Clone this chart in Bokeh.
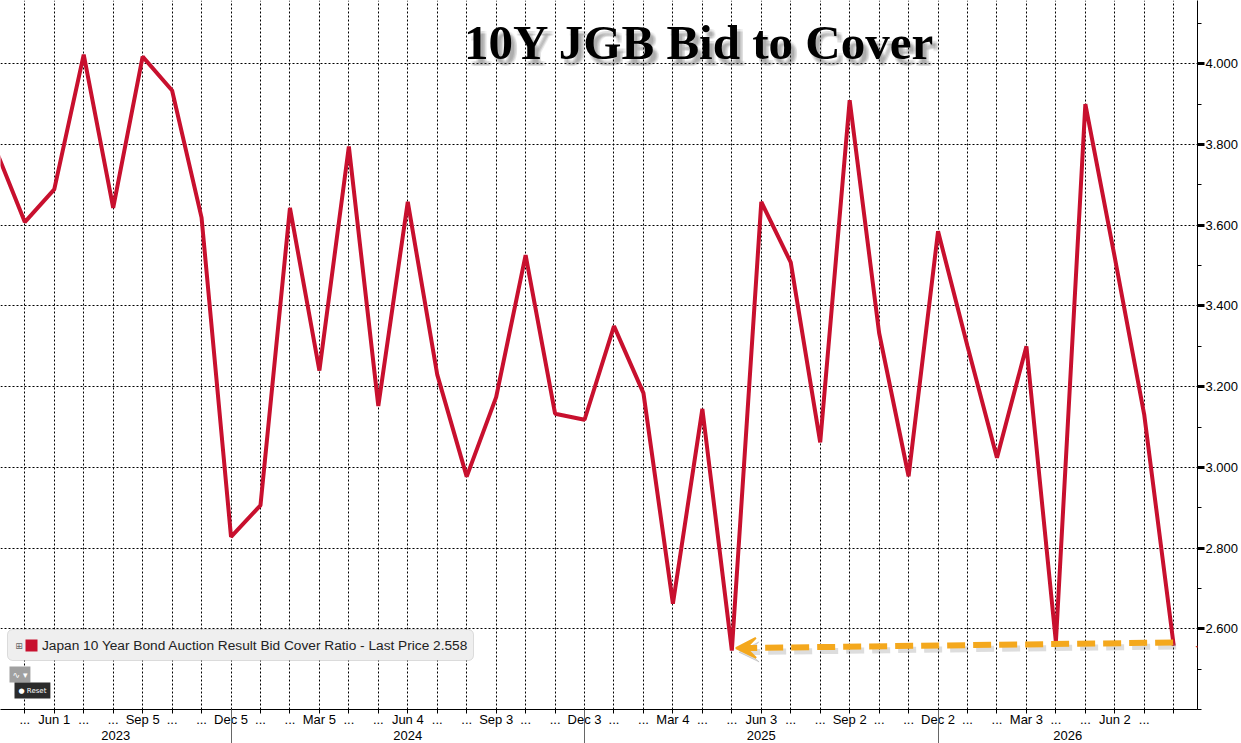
import numpy as np
from bokeh.plotting import figure
from bokeh.models import (Range1d, FixedTicker, CustomJSTickFormatter, LinearAxis,
                          NumeralTickFormatter, Label, Arrow, VeeHead, BoxAnnotation)
from bokeh.embed import file_html
from bokeh.resources import INLINE

# ---------------- data ----------------
# first value is the auction before the first labelled one (runs off the left edge)
auction_values = [3.79, 3.608, 3.689, 4.023, 3.643, 4.018, 3.934, 3.619, 2.828, 2.906,
                  3.643, 3.240, 3.795, 3.152, 3.658, 3.230, 2.977, 3.174, 3.526, 3.133,
                  3.118, 3.350, 3.184, 2.662, 3.145, 2.546, 3.658, 3.508, 3.062, 3.910,
                  3.333, 2.978, 3.585, 3.300, 3.024, 3.300, 2.567, 3.900, 3.520, 3.130,
                  2.558]
tick_labels = ["...", "Jun 1", "...", "...", "Sep 5", "...", "...", "Dec 5", "...", "...",
               "Mar 5", "...", "...", "Jun 4", "...", "...", "Sep 3", "...", "...", "Dec 3",
               "...", "...", "Mar 4", "...", "...", "Jun 3", "...", "...", "Sep 2", "...",
               "...", "Dec 2", "...", "...", "Mar 3", "...", "...", "Jun 2", "...", ""]
year_labels = ["2023", "2024", "2025", "2026"]
year_break_index = [7, 19, 31]
y_major = [2.6, 2.8, 3.0, 3.2, 3.4, 3.6, 3.8, 4.0]
y_minor = [2.4, 2.5, 2.7, 2.9, 3.1, 3.3, 3.5, 3.7, 3.9, 4.1]
last_price = 2.558
series_name = "Japan 10 Year Bond Auction Result Bid Cover Ratio - Last Price 2.558"
chart_title = "10Y JGB Bid to Cover"

auction_index = list(range(-1, len(tick_labels)))

RED = "#c8102e"
ORANGE = "#f4a81d"
FONT = "Liberation Sans"

W, H = 1241, 743
FRAME_W, FRAME_H = 1197, 709
X0, X1 = -0.825, 39.807
Y0, Y1 = 2.4, 4.157


def px_x(px):
    return X0 + px * (X1 - X0) / FRAME_W


def px_y(py):
    return Y1 - py * (Y1 - Y0) / FRAME_H


p = figure(width=W, height=H, x_range=Range1d(X0, X1), y_range=Range1d(Y0, Y1),
           y_axis_location="right", output_backend="svg", toolbar_location=None,
           min_border_left=0, min_border_top=0, min_border_bottom=H - FRAME_H,
           min_border_right=W - FRAME_W,
           background_fill_color="white", border_fill_color="white",
           outline_line_color=None)
p.title.visible = False

# grids
p.xgrid[0].ticker = FixedTicker(ticks=list(range(len(tick_labels))))
p.ygrid[0].ticker = FixedTicker(ticks=y_major)
for g in (p.xgrid[0], p.ygrid[0]):
    g.grid_line_color = "black"
    g.grid_line_dash = "2 2"
    g.grid_line_width = 1

# month axis
xa = p.xaxis[0]
xa.ticker = FixedTicker(ticks=list(range(len(tick_labels))), minor_ticks=[])
xa.formatter = CustomJSTickFormatter(args=dict(labels=tick_labels),
    code="const k = Math.round(tick); return (k >= 0 && k < labels.length) ? labels[k] : '';")
xa.axis_line_color = "black"
xa.major_tick_line_color = "black"
xa.major_tick_out = 4
xa.major_tick_in = 0
xa.minor_tick_line_color = None
xa.minor_tick_out = 0
xa.minor_tick_in = 0
xa.major_label_standoff = -2
xa.major_label_text_font = FONT
xa.major_label_text_font_size = "13px"
xa.major_label_text_color = "black"

# year axis, with the year separators drawn as its minor ticks
bounds = [X0] + year_break_index + [X1]
year_centers = [(bounds[k] + bounds[k + 1]) / 2 for k in range(len(year_labels))]
yx = LinearAxis(ticker=FixedTicker(ticks=year_centers, minor_ticks=year_break_index),
                formatter=CustomJSTickFormatter(args=dict(labels=year_labels),
                                                code="return labels[index];"),
                axis_line_color=None, major_tick_line_color=None, major_tick_out=0,
                major_tick_in=0, minor_tick_line_color="#666666", minor_tick_out=17,
                minor_tick_in=20, major_label_standoff=-16, major_label_text_font=FONT,
                major_label_text_font_size="13px", major_label_text_color="black")
p.add_layout(yx, "below")

# price axis (right)
ya = p.yaxis[0]
ya.ticker = FixedTicker(ticks=y_major, minor_ticks=y_minor)
ya.formatter = NumeralTickFormatter(format="0.000")
ya.axis_line_color = "black"
ya.major_tick_line_color = "black"
ya.major_tick_line_width = 3
ya.major_tick_out = 7
ya.major_tick_in = 0
ya.minor_tick_line_color = "black"
ya.minor_tick_out = 4
ya.minor_tick_in = 0
ya.major_label_standoff = 1
ya.major_label_text_font = FONT
ya.major_label_text_font_size = "13px"
ya.major_label_text_color = "black"

# series line
p.line(auction_index, auction_values, line_color=RED, line_width=4)

# orange dashed arrow from last print back to the earlier low
n_last = auction_index[-1]
low_pos = int(np.argmin(auction_values[:-1]))
low_idx = auction_index[low_pos]
ax0, ay0 = n_last - 0.02, auction_values[-1] + 0.008
ax1, ay1 = low_idx + 0.14, auction_values[low_pos] + 0.006
sdx, sdy = 3 * (X1 - X0) / FRAME_W, 4 * (Y1 - Y0) / FRAME_H
p.add_layout(Arrow(end=VeeHead(size=20, fill_color="#777777", fill_alpha=0.25,
                               line_color="#777777", line_alpha=0.25),
                   x_start=ax0 + sdx, y_start=ay0 - sdy, x_end=ax1 + sdx, y_end=ay1 - sdy,
                   line_color="#777777", line_alpha=0.25, line_width=6, line_dash="18 8"))
p.add_layout(Arrow(end=VeeHead(size=20, fill_color=ORANGE, line_color=ORANGE, line_width=2),
                   x_start=ax0, y_start=ay0, x_end=ax1, y_end=ay1,
                   line_color=ORANGE, line_width=6, line_dash="18 8"))

# title with soft shadow
tx, ty = px_x(699), px_y(42)
for dx in (3, 4.5, 6):
    for dy in (-4, -5.5, -7):
        p.add_layout(Label(x=tx, y=ty, x_offset=dx, y_offset=dy, text=chart_title,
                           text_font="Liberation Serif", text_font_style="bold",
                           text_font_size="49px", text_color="#444444", text_alpha=0.06,
                           text_align="center", text_baseline="alphabetic"))
p.add_layout(Label(x=tx, y=ty, text=chart_title, text_font="Liberation Serif",
                   text_font_style="bold", text_font_size="49px", text_color="black",
                   text_align="center", text_baseline="alphabetic"))

# legend box
p.add_layout(BoxAnnotation(left=px_x(7), right=px_x(473), top=px_y(629), bottom=px_y(660),
                           fill_color="#efefef", fill_alpha=1.0, line_color="#9a9a9a",
                           line_width=1, border_radius=5))
p.add_layout(BoxAnnotation(left=px_x(25), right=px_x(37), top=px_y(639), bottom=px_y(651),
                           fill_color=RED, fill_alpha=1.0, line_color=None))
p.add_layout(Label(x=px_x(18.5), y=px_y(645), text="⊞", text_font="DejaVu Sans",
                   text_font_size="9px", text_color="#666666", text_align="center",
                   text_baseline="middle"))
p.add_layout(Label(x=px_x(41.5), y=px_y(645), text=series_name, text_font=FONT,
                   text_font_size="13.7px", text_color="#222222", text_align="left",
                   text_baseline="middle"))

# little toolbar widgets
p.add_layout(Label(x=px_x(9), y=px_y(674), text="∿ ▾", text_font="DejaVu Sans",
                   text_font_size="9px", text_color="white", background_fill_color="#a0a0a0",
                   text_align="left", text_baseline="middle", padding=3))
p.add_layout(Label(x=px_x(14), y=px_y(690), text="● Reset", text_font="DejaVu Sans",
                   text_font_size="7px", text_color="white", background_fill_color="#2b2b2b",
                   text_align="left", text_baseline="middle", padding=4))

# last price tag
p.add_layout(Label(x=X1, y=last_price, x_offset=8, text="◀", text_font="DejaVu Sans",
                   text_font_size="13px", text_color=RED, text_align="right",
                   text_baseline="middle"))
p.add_layout(Label(x=X1, y=last_price, x_offset=7, text=f"{last_price:.3f}", text_font=FONT,
                   text_font_size="13.5px", text_color="white", background_fill_color=RED,
                   text_align="left", text_baseline="middle", padding=2))

open("out.html", "w").write(file_html(p, INLINE))
